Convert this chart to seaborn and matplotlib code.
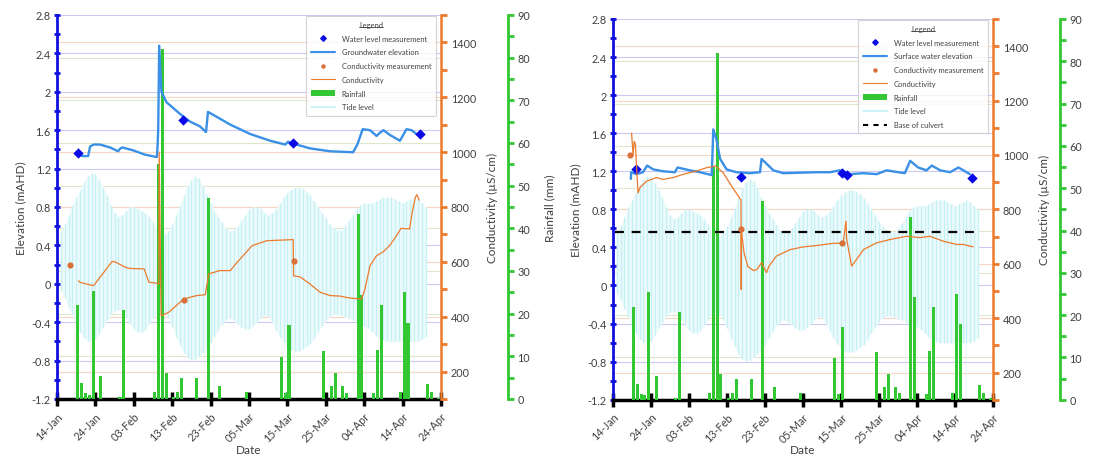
import numpy as np
import pandas as pd
import matplotlib
matplotlib.use("Agg")
import matplotlib.pyplot as plt
from matplotlib.ticker import MultipleLocator, FuncFormatter
from matplotlib.lines import Line2D
from matplotlib.patches import Patch
from matplotlib.transforms import blended_transform_factory
import seaborn as sns

# ---- datos (dias desde 14-Jan) ----
start = pd.Timestamp("2019-01-14")
tick_labels = ["14-Jan", "24-Jan", "03-Feb", "13-Feb", "23-Feb", "05-Mar",
               "15-Mar", "25-Mar", "04-Apr", "14-Apr", "24-Apr"]

# lluvia diaria (mm)
rain_days = [5, 6, 7, 8, 9, 11, 16, 17, 25, 26, 27, 28, 30, 31, 32, 36, 39, 42, 49,
             58, 59, 60, 69, 71, 72, 74, 75, 78, 79, 82, 83, 84, 89, 90, 91, 96, 97, 99]
rain_mm = [22, 3.7, 1.4, 1.0, 25.4, 5.5, 0.5, 20.8, 1.6, 55, 82, 6, 0.5, 1.6, 4.9, 4.9, 47, 3, 1.7,
           9.8, 1.4, 17.3, 11.2, 3, 6, 3, 1.5, 43.3, 24.3, 1.4, 11.5, 22, 1.6, 25.1, 17.8, 3.5, 1.7, 0.3]

# marea: maximo y minimo diario (mAHD)
tide_days = list(range(1, 97))
tide_high = [0.55, 0.62, 0.72, 0.82, 0.90, 0.98, 1.06, 1.12, 1.15, 1.14,
             1.08, 1.00, 0.92, 0.82, 0.74, 0.70, 0.72, 0.76, 0.80, 0.80,
             0.78, 0.76, 0.74, 0.70, 0.64, 0.58, 0.54, 0.52, 0.55, 0.62,
             0.72, 0.82, 0.92, 1.02, 1.08, 1.12, 1.10, 1.02, 0.92, 0.84,
             0.76, 0.70, 0.64, 0.58, 0.55, 0.56, 0.60, 0.66, 0.72, 0.78,
             0.80, 0.80, 0.78, 0.74, 0.72, 0.74, 0.78, 0.84, 0.90, 0.95,
             0.98, 1.00, 1.00, 0.99, 0.96, 0.92, 0.86, 0.80, 0.74, 0.68,
             0.62, 0.58, 0.56, 0.56, 0.60, 0.66, 0.72, 0.78, 0.82, 0.84,
             0.84, 0.84, 0.86, 0.88, 0.90, 0.90, 0.90, 0.88, 0.86, 0.84,
             0.86, 0.88, 0.90, 0.88, 0.84, 0.80]
tide_low = [-0.08, -0.15, -0.25, -0.33, -0.42, -0.50, -0.56, -0.60, -0.60, -0.58,
            -0.52, -0.45, -0.38, -0.32, -0.28, -0.27, -0.30, -0.36, -0.42, -0.47,
            -0.50, -0.50, -0.48, -0.42, -0.36, -0.30, -0.28, -0.30, -0.36, -0.45,
            -0.55, -0.64, -0.72, -0.77, -0.79, -0.78, -0.75, -0.72, -0.68, -0.62,
            -0.55, -0.48, -0.42, -0.38, -0.36, -0.38, -0.42, -0.45, -0.47, -0.47,
            -0.44, -0.40, -0.36, -0.33, -0.34, -0.40, -0.48, -0.55, -0.61, -0.66,
            -0.69, -0.70, -0.70, -0.68, -0.65, -0.62, -0.57, -0.50, -0.44, -0.38,
            -0.34, -0.32, -0.32, -0.33, -0.35, -0.36, -0.38, -0.40, -0.42, -0.44,
            -0.46, -0.50, -0.54, -0.57, -0.59, -0.60, -0.60, -0.60, -0.60, -0.60,
            -0.60, -0.60, -0.60, -0.60, -0.58, -0.55]

# panel izquierdo: agua subterranea
gw_days = [6.0, 6.5, 8.1, 8.6, 9.5, 11.2, 13.8, 15.9, 16.5, 17.0, 19.8, 22.9, 26.0, 26.2,
           26.35, 26.6, 27.2, 28.5, 29.4, 32.0, 34.6, 37.2, 38.8, 39.3, 41.1, 45.0, 50.3,
           55.5, 59.4, 60.2, 61.5, 65.9, 71.1, 77.1, 78.2, 79.6, 81.5, 83.2, 84.0, 85.0,
           86.7, 89.3, 91.0, 92.3, 93.6]
gw_elev = [1.35, 1.33, 1.33, 1.43, 1.45, 1.45, 1.42, 1.38, 1.41, 1.42, 1.39, 1.345, 1.32, 1.45,
           1.62, 2.48, 2.0, 1.89, 1.86, 1.77, 1.69, 1.64, 1.58, 1.79, 1.75, 1.66, 1.56,
           1.49, 1.45, 1.48, 1.46, 1.41, 1.38, 1.37, 1.45, 1.61, 1.60, 1.54, 1.57, 1.60,
           1.55, 1.49, 1.61, 1.60, 1.56]
gw_meas_days = [5.4, 32.9, 61.5, 94.5]
gw_meas_elev = [1.366, 1.71, 1.47, 1.56]
gw_cond_days = [5.6, 6.0, 9.5, 12.2, 14.3, 15.1, 17.8, 18.9, 22.7, 23.9, 25.9, 26.5, 26.6,
                27.1, 27.3, 29.1, 33.0, 36.4, 38.6, 39.5, 42.4, 45.1, 46.9, 50.8, 54.6,
                61.5, 61.6, 63.3, 65.9, 68.5, 71.1, 73.7, 76.3, 79.3, 80.2, 81.5, 83.2,
                84.9, 86.6, 88.4, 89.6, 91.8, 92.5, 93.3, 93.7, 94.3]
gw_cond = [531, 525, 513, 562, 601, 600, 580, 576, 574, 526, 522, 519, 1000,
           404, 404, 416, 465, 477, 480, 556, 568, 568, 598, 659, 677,
           681, 549, 545, 519, 489, 477, 475, 468, 464, 501, 586, 622,
           636, 659, 695, 722, 720, 780, 835, 845, 825]
gw_cond_meas_days = [3.5, 33.0, 61.6]
gw_cond_meas = [589, 462, 602]

# panel derecho: agua superficial
sw_days = [4.7, 4.8, 6.2, 7.9, 9.0, 10.6, 13.2, 16.3, 17.0, 20.2, 22.9, 26.0, 26.4, 27.2,
           28.2, 29.9, 32.5, 36.0, 38.7, 39.1, 40.4, 42.2, 44.8, 53.6, 57.1, 59.7, 62.4,
           65.9, 69.4, 72.0, 75.1, 76.8, 78.2, 80.3, 82.5, 83.9, 86.1, 88.7, 90.9, 92.2, 93.9]
sw_elev = [1.12, 1.19, 1.17, 1.19, 1.26, 1.22, 1.20, 1.19, 1.24, 1.21, 1.19, 1.16, 1.64, 1.54,
           1.33, 1.22, 1.19, 1.18, 1.19, 1.33, 1.28, 1.21, 1.18, 1.19, 1.19, 1.21, 1.17,
           1.18, 1.17, 1.21, 1.19, 1.18, 1.31, 1.24, 1.21, 1.26, 1.21, 1.19, 1.24, 1.21, 1.17]
sw_meas_days = [6.05, 33.6, 60.2, 61.5, 94.4]
sw_meas_elev = [1.22, 1.14, 1.18, 1.16, 1.13]
sw_cond_days = [4.9, 5.3, 5.6, 5.9, 6.2, 6.6, 7.1, 8.9, 11.5, 13.2, 15.9, 18.5, 22.0, 24.6,
                27.0, 27.4, 29.0, 31.2, 33.4, 33.7, 33.75, 33.8, 34.5, 35.5, 37.0, 38.0,
                39.1, 39.6, 40.4, 41.0, 43.0, 46.6, 50.1, 53.6, 57.9, 60.6, 61.3, 61.5,
                62.8, 64.1, 65.9, 69.4, 72.9, 77.3, 80.8, 83.4, 86.9, 90.4, 92.2, 94.8]
sw_cond = [1080, 1000, 1050, 1040, 960, 860, 880, 904, 917, 910, 917, 929, 941, 953,
           960, 955, 935, 886, 840, 835, 505, 720, 640, 590, 575, 580,
           605, 590, 567, 590, 628, 652, 662, 667, 675, 676, 757, 690,
           591, 616, 652, 677, 689, 701, 696, 701, 683, 671, 671, 662]
sw_cond_meas_days = [4.5, 33.7, 60.4]
sw_cond_meas = [1000, 729, 675]
culvert_days = [0.5, 95.7]
culvert_level = [0.56, 0.56]

# ---- estilo ----
sns.set_style("white")
plt.rcParams["font.family"] = ["Lato", "DejaVu Sans"]

C_AXBLUE = "#1010e0"
C_LINE = "#3a8fe6"
C_MEAS = "#0a0ae6"
C_ORANGE = "#ec7a2c"
C_CMEAS = "#d9703a"
C_GREEN = "#33c733"
C_TIDE = "#c4f1f6"
C_TIDEFILL = "#edfafc"
C_TXT = "#404040"


def to_dates(days):
    return start + pd.to_timedelta(np.asarray(days, dtype=float), unit="D")


def panel(rect, el_days, el_vals, el_name, m_days, m_vals, c_days, c_vals,
          cm_days, cm_vals, culvert=False):
    base = fig.add_axes(rect)
    rain_ax = base.twinx()
    elev_ax = fig.add_axes(rect, sharex=base, sharey=base)
    cond_ax = base.twinx()
    for i, a in enumerate([base, rain_ax, elev_ax, cond_ax]):
        a.set_zorder(i)
        if i > 0:
            a.patch.set_visible(False)
    elev_ax.axis("off")

    # lineas de grilla (todas detras)
    for v in np.arange(-0.8, 2.81, 0.4):
        base.axhline(v, color="#c9c9f2", lw=0.8, zorder=0)
    tr_c = blended_transform_factory(base.transAxes, cond_ax.transData)
    tr_r = blended_transform_factory(base.transAxes, rain_ax.transData)
    for v in range(200, 1500, 200):
        base.add_artist(Line2D([0, 1], [v, v], transform=tr_c, color="#f6d7c3", lw=0.8, zorder=0))
    for v in range(10, 90, 10):
        base.add_artist(Line2D([0, 1], [v, v], transform=tr_r, color="#dfe6cc", lw=0.8, zorder=0))

    # marea
    td = to_dates(tide_days)
    base.fill_between(td, tide_low, tide_high, color=C_TIDEFILL, lw=0, zorder=1)
    base.vlines(td, tide_low, tide_high, colors=C_TIDE, lw=0.9, zorder=2)

    # lluvia
    rain_ax.bar(to_dates(rain_days), rain_mm, width=0.8, align="edge", color=C_GREEN, lw=0)

    # elevacion
    sns.lineplot(x=to_dates(el_days), y=el_vals, ax=elev_ax, estimator=None, sort=False,
                 color=C_LINE, linewidth=1.7, legend=False)
    sns.scatterplot(x=to_dates(m_days), y=m_vals, ax=elev_ax, marker="D", s=28,
                    color=C_MEAS, linewidth=0, legend=False, zorder=5)
    if culvert:
        elev_ax.plot(to_dates(culvert_days), culvert_level, color="black", lw=1.6,
                     dashes=(4, 3.5))

    # conductividad
    sns.lineplot(x=to_dates(c_days), y=c_vals, ax=cond_ax, estimator=None, sort=False,
                 color=C_ORANGE, linewidth=0.9, legend=False)
    sns.scatterplot(x=to_dates(cm_days), y=cm_vals, ax=cond_ax, marker="o", s=20,
                    color=C_CMEAS, linewidth=0, legend=False, zorder=5)

    # ejes y limites
    base.set_xlim(start, start + pd.Timedelta(days=100))
    base.set_ylim(-1.2, 2.8)
    cond_ax.set_ylim(100, 1500)
    rain_ax.set_ylim(0, 90)

    base.set_xticks(to_dates(range(0, 101, 10)))
    base.set_xticklabels(tick_labels, rotation=45, ha="right", rotation_mode="anchor",
                         fontsize=7.8, color=C_TXT)
    base.tick_params(axis="x", bottom=True, direction="inout", length=10, width=2.5,
                     color="black", pad=3)
    base.yaxis.set_major_locator(MultipleLocator(0.4))
    base.yaxis.set_minor_locator(MultipleLocator(0.2))
    base.yaxis.set_major_formatter(FuncFormatter(lambda v, p: "{:g}".format(round(v, 1) + 0.0)))
    base.tick_params(axis="y", which="both", left=True, direction="inout", length=5, width=2,
                     color=C_AXBLUE, labelsize=7.8, labelcolor=C_TXT, pad=2)
    for s in ["top", "right"]:
        base.spines[s].set_visible(False)
    base.spines["left"].set_color(C_AXBLUE)
    base.spines["left"].set_linewidth(2)
    base.spines["bottom"].set_color("black")
    base.spines["bottom"].set_linewidth(2.5)

    cond_ax.yaxis.set_major_locator(MultipleLocator(200))
    cond_ax.yaxis.set_minor_locator(MultipleLocator(100))
    cond_ax.tick_params(axis="y", which="both", right=True, direction="out", length=4, width=2,
                        color=C_ORANGE, labelsize=7.8, labelcolor=C_TXT, pad=3)
    for s in ["top", "left", "bottom"]:
        cond_ax.spines[s].set_visible(False)
        rain_ax.spines[s].set_visible(False)
    cond_ax.spines["right"].set_color(C_ORANGE)
    cond_ax.spines["right"].set_linewidth(1.8)

    rain_ax.spines["right"].set_position(("outward", 48))
    rain_ax.spines["right"].set_color(C_GREEN)
    rain_ax.spines["right"].set_linewidth(2)
    rain_ax.yaxis.set_major_locator(MultipleLocator(10))
    rain_ax.yaxis.set_minor_locator(MultipleLocator(5))
    rain_ax.tick_params(axis="y", which="both", right=True, direction="out", length=4, width=2,
                        color=C_GREEN, labelsize=7.8, labelcolor=C_TXT, pad=3)

    base.set_xlabel("Date", fontsize=8.5, color=C_TXT, labelpad=0)
    base.set_ylabel("Elevation (mAHD)", fontsize=8.5, color=C_TXT, labelpad=4)
    cond_ax.set_ylabel("Conductivity (µS/cm)", fontsize=8.5, color=C_TXT, labelpad=8)
    rain_ax.set_ylabel("Rainfall (mm)", fontsize=8.5, color=C_TXT, labelpad=10)

    # leyenda
    handles = [
        Line2D([], [], marker="D", color=C_MEAS, ls="none", markersize=2.8),
        Line2D([], [], color=C_LINE, lw=1.5),
        Line2D([], [], marker="o", color=C_CMEAS, ls="none", markersize=2.2),
        Line2D([], [], color=C_ORANGE, lw=0.8),
        Patch(facecolor=C_GREEN, edgecolor="none"),
        Line2D([], [], color=C_TIDE, lw=1.2),
    ]
    labels = ["Water level measurement", el_name, "Conductivity measurement",
              "Conductivity", "Rainfall", "Tide level"]
    if culvert:
        handles.append(Line2D([], [], color="black", lw=1.5, dashes=(2.5, 2.5)))
        labels.append("Base of culvert")
    leg = cond_ax.legend(handles, labels, loc="upper right", bbox_to_anchor=(0.99, 1.0),
                         borderaxespad=0.1, fontsize=5.4, title="Legend", title_fontsize=5.4,
                         frameon=True, fancybox=True, edgecolor="#c8c8c8",
                         labelspacing=0.9, handlelength=3.2, handletextpad=0.9,
                         borderpad=0.7)
    leg.get_frame().set_linewidth(0.8)
    for t in leg.get_texts():
        t.set_color(C_TXT)
    leg.get_title().set_color(C_TXT)
    return leg


fig = plt.figure(figsize=(10.93, 4.64), dpi=100)
legs = []
legs.append(panel([0.0522, 0.138, 0.3513, 0.8276], gw_days, gw_elev, "Groundwater elevation",
                  gw_meas_days, gw_meas_elev, gw_cond_days, gw_cond,
                  gw_cond_meas_days, gw_cond_meas))
legs.append(panel([0.5608, 0.1364, 0.3477, 0.8205], sw_days, sw_elev, "Surface water elevation",
                  sw_meas_days, sw_meas_elev, sw_cond_days, sw_cond,
                  sw_cond_meas_days, sw_cond_meas, culvert=True))

# subrayado del titulo "Legend"
fig.canvas.draw()
for leg in legs:
    bb = leg.get_title().get_window_extent()
    fig.add_artist(Line2D([bb.x0, bb.x1], [bb.y0 + 1, bb.y0 + 1], transform=None,
                          color=C_TXT, lw=0.6, zorder=10))

fig.savefig("out.png", dpi=100)
